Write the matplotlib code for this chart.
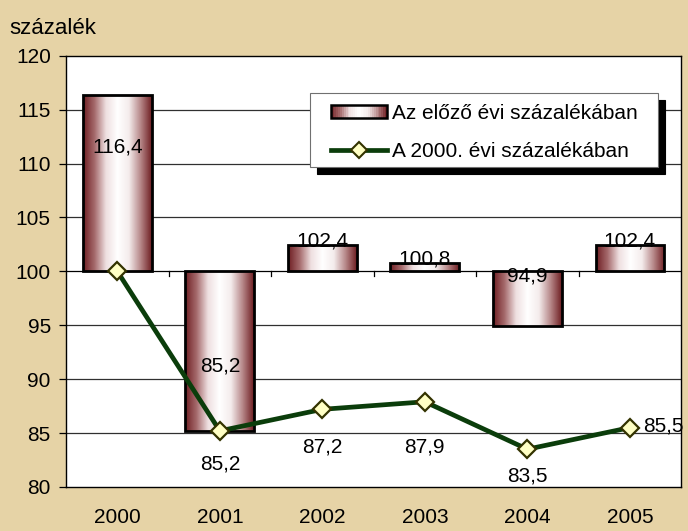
import matplotlib

matplotlib.use('Agg')
import numpy as np
import matplotlib.pyplot as plt
from matplotlib.colors import LinearSegmentedColormap
from matplotlib.patches import Rectangle, Shadow
from matplotlib.lines import Line2D
from matplotlib.legend_handler import HandlerBase

plt.rcParams['font.family'] = ['Liberation Sans', 'DejaVu Sans']
FS = 15

years = ['2000', '2001', '2002', '2003', '2004', '2005']
prev_year_pct = [116.4, 85.2, 102.4, 100.8, 94.9, 102.4]
base_2000_pct = [100.0, 85.2, 87.2, 87.9, 83.5, 85.5]

# label offsets in pixels (dx, dy) from the value, up is positive
bar_lbl_off = [(0, -52), (0, 65), (0, 4), (0, 4), (0, 50), (0, 4)]
line_lbl_off = [None, (0, -33), (0, -38), (0, -45), (0, -27), (34, 2)]

BG = '#e6d3a6'
GREEN = '#0b3d0b'
grad_cmap = LinearSegmentedColormap.from_list(
    'cyl', ['#6e1e22', '#a56a6c', '#eedfe0', '#ffffff', '#f4ecec', '#b88a8b', '#6e1e22'])


class GradientBarHandler(HandlerBase):
    def create_artists(self, legend, orig_handle, xdescent, ydescent, width, height, fontsize, trans):
        arts = []
        n = 30
        h = 13 * 0.72
        y0 = -ydescent + (height - h) / 2
        for i in range(n):
            c = grad_cmap((i + 0.5) / n)
            r = Rectangle((-xdescent + width * i / n, y0), width / n + 0.3, h,
                          facecolor=c, edgecolor='none', transform=trans)
            arts.append(r)
        arts.append(Rectangle((-xdescent, y0), width, h, facecolor='none',
                              edgecolor='black', lw=1.8, transform=trans))
        return arts


fig = plt.figure(figsize=(6.88, 5.31), dpi=100)
fig.patch.set_facecolor(BG)
ax = fig.add_axes([0.096, 0.083, 0.894, 0.812])
ax.set_facecolor('white')

x = np.arange(len(years))

for yv in np.arange(85, 120, 5):
    ax.axhline(yv, color='#303030' if yv != 100 else 'black', lw=0.9, zorder=1)

heights = np.array(prev_year_pct) - 100
bars = ax.bar(x, heights, bottom=100, width=0.67, facecolor='none',
              edgecolor='black', linewidth=2, zorder=4)
grad = np.linspace(0, 1, 256).reshape(1, -1)
for b in bars:
    bx, by = b.get_x(), b.get_y()
    bw, bh = b.get_width(), b.get_height()
    im = ax.imshow(grad, cmap=grad_cmap, aspect='auto', zorder=3,
                   extent=[bx, bx + bw, min(by, by + bh), max(by, by + bh)])
    im.set_clip_path(b)
ax.set_xlim(-0.5, len(years) - 0.5)
ax.set_ylim(80, 120)
ax.set_yticks(np.arange(80, 121, 5))

# category ticks on the 100 line
for k in range(1, len(years)):
    ax.plot([k - 0.5, k - 0.5], [100, 99.55], color='black', lw=0.9, zorder=2)

ax.plot(x, base_2000_pct, color=GREEN, lw=3.4, marker='D', markersize=9,
        markerfacecolor='#ffffc4', markeredgecolor='#333300', markeredgewidth=1.6,
        zorder=5, solid_joinstyle='round')

for i, v in enumerate(prev_year_pct):
    dx, dy = bar_lbl_off[i]
    ax.annotate(f'{v:.1f}'.replace('.', ','), (x[i], v), xytext=(dx * 0.72, dy * 0.72),
                textcoords='offset points', ha='center', va='center', fontsize=FS, zorder=6)
for i, v in enumerate(base_2000_pct):
    if line_lbl_off[i] is None:
        continue
    dx, dy = line_lbl_off[i]
    ax.annotate(f'{v:.1f}'.replace('.', ','), (x[i], v), xytext=(dx * 0.72, dy * 0.72),
                textcoords='offset points', ha='center', va='center', fontsize=FS, zorder=6)

ax.set_xticks(x)
ax.set_xticklabels(years, fontsize=FS)
ax.tick_params(axis='x', length=0, pad=15)
ax.tick_params(axis='y', length=5, width=0.9, labelsize=FS, pad=6)
for s in ax.spines.values():
    s.set_color('black')
    s.set_linewidth(1.0)

fig.text(0.014, 0.947, 'százalék', fontsize=16, ha='left', va='center')

# legend frame drawn by hand so the side padding can differ from the top padding
lx0, ly0, lx1, ly1 = 0.397, 0.741, 0.963, 0.913
frame = Rectangle((lx0, ly0), lx1 - lx0, ly1 - ly0, transform=ax.transAxes,
                  facecolor='white', edgecolor='#707070', lw=0.8, zorder=9)
shadow = Shadow(frame, 0.008, -0.011, facecolor='black', edgecolor='black', alpha=1)
shadow.set_zorder(8.9)
ax.add_patch(shadow)
ax.add_patch(frame)

bar_handle = Rectangle((0, 0), 1, 1)
line_handle = Line2D([], [], color=GREEN, lw=3.4, marker='D', markersize=8,
                     markerfacecolor='#ffffc4', markeredgecolor='#333300', markeredgewidth=1.5)
leg = ax.legend([bar_handle, line_handle], ['Az előző évi százalékában', 'A 2000. évi százalékában'],
                handler_map={Rectangle: GradientBarHandler()},
                loc='center', bbox_to_anchor=((lx0 + lx1) / 2, (ly0 + ly1) / 2 - 0.005),
                borderaxespad=0, frameon=False, fontsize=15,
                handlelength=2.7, handletextpad=0.25, borderpad=0.2, labelspacing=0.9)
leg.set_zorder(10)

fig.savefig('out.png', dpi=100, facecolor=BG)
